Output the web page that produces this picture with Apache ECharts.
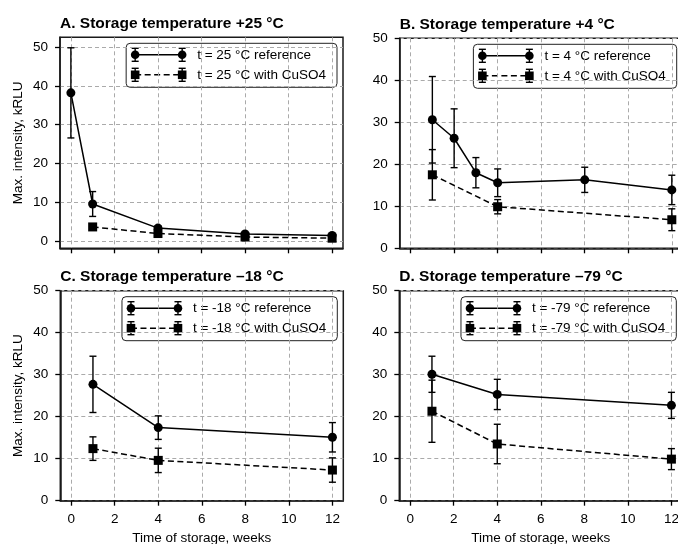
<!DOCTYPE html>
<html>
<head>
<meta charset="utf-8">
<script src="https://cdn.jsdelivr.net/npm/echarts@6.0.0/dist/echarts.min.js"></script>
<style>
  html, body { margin: 0; padding: 0; background: #fff; }
  #chart { width: 678px; height: 544px; }
</style>
</head>
<body>
<div id="chart"></div>
<script>
// tick values
const xTicks = [0, 2, 4, 6, 8, 10, 12];
const yTicks = [0, 10, 20, 30, 40, 50];

const panelTitles = [
  "A. Storage temperature +25 °C",
  "B. Storage temperature +4 °C",
  "C. Storage temperature –18 °C",
  "D. Storage temperature –79 °C"
];
const refLabels = ["t = 25 °C reference", "t = 4 °C reference", "t = -18 °C reference", "t = -79 °C reference"];
const cuLabels = ["t = 25 °C with CuSO4", "t = 4 °C with CuSO4", "t = -18 °C with CuSO4", "t = -79 °C with CuSO4"];

// A. +25 °C
const refWeeksA = [0, 1, 4, 8, 12];
const refA = [38.2, 9.6, 3.4, 1.9, 1.5];
const refErrA = [11.6, 3.2, 0.6, 0.4, 0.4];
const cuWeeksA = [1, 4, 8, 12];
const cuA = [3.7, 2.0, 1.1, 0.8];
const cuErrA = [0.8, 0.6, 0.4, 0.3];

// B. +4 °C
const refWeeksB = [1, 2, 3, 4, 8, 12];
const refB = [30.6, 26.2, 18.0, 15.6, 16.3, 13.9];
const refErrB = [10.3, 7.0, 3.6, 3.3, 3.0, 3.5];
const cuWeeksB = [1, 4, 12];
const cuB = [17.5, 9.9, 6.8];
const cuErrB = [6.0, 1.7, 2.6];

// C. -18 °C
const refWeeksC = [1, 4, 12];
const refC = [27.7, 17.4, 15.1];
const refErrC = [6.7, 2.8, 3.5];
const cuWeeksC = [1, 4, 12];
const cuC = [12.4, 9.6, 7.3];
const cuErrC = [2.8, 2.9, 2.9];

// D. -79 °C
const refWeeksD = [1, 4, 12];
const refD = [30.1, 25.3, 22.7];
const refErrD = [4.3, 3.6, 3.1];
const cuWeeksD = [1, 4, 12];
const cuD = [21.3, 13.5, 9.9];
const cuErrD = [7.4, 4.7, 2.5];

const panels = [
  { rw: refWeeksA, r: refA, re: refErrA, cw: cuWeeksA, c: cuA, ce: cuErrA },
  { rw: refWeeksB, r: refB, re: refErrB, cw: cuWeeksB, c: cuB, ce: cuErrB },
  { rw: refWeeksC, r: refC, re: refErrC, cw: cuWeeksC, c: cuC, ce: cuErrC },
  { rw: refWeeksD, r: refD, re: refErrD, cw: cuWeeksD, c: cuD, ce: cuErrD }
];

const FONT = "'Liberation Sans', Arial, Helvetica, sans-serif";
const FS = 13.5;
const INK = "#000";
const DASH = [6, 3.5];

// grid boxes (px) and y ranges
const grids = [
  { left: 60, top: 37.3, width: 283, height: 211, ymin: -1.8, ymax: 52.5 },
  { left: 399.7, top: 38.3, width: 283, height: 210, ymin: 0, ymax: 50 },
  { left: 60.3, top: 290.7, width: 283, height: 210, ymin: 0, ymax: 50 },
  { left: 399.3, top: 290.7, width: 283, height: 210, ymin: 0, ymax: 50 }
];

const chart = echarts.init(document.getElementById("chart"), null, { renderer: "canvas" });

function zip(xs, ys) { return xs.map((x, i) => [x, ys[i]]); }
function zip3(xs, ys, es) { return xs.map((x, i) => [x, ys[i], es[i]]); }

function renderErr(params, api) {
  const x = api.value(0), y = api.value(1), e = api.value(2);
  const t = api.coord([x, y + e]);
  const b = api.coord([x, y - e]);
  const cap = 3.5;
  const st = { stroke: INK, lineWidth: 1.4 };
  return {
    type: "group",
    children: [
      { type: "line", shape: { x1: t[0], y1: t[1], x2: b[0], y2: b[1] }, style: st },
      { type: "line", shape: { x1: t[0] - cap, y1: t[1], x2: t[0] + cap, y2: t[1] }, style: st },
      { type: "line", shape: { x1: b[0] - cap, y1: b[1], x2: b[0] + cap, y2: b[1] }, style: st }
    ]
  };
}

const measureCtx = document.createElement("canvas").getContext("2d");
measureCtx.font = FS + "px " + FONT;

// legend drawn as graphic: line + two markers with error bars
function legendGroup(i) {
  const g = grids[i];
  const w1 = measureCtx.measureText(refLabels[i]).width;
  const w2 = measureCtx.measureText(cuLabels[i]).width;
  const boxW = 71 + Math.max(w1, w2) + 11;
  const boxH = 44;
  const right = g.left + g.width - 6;
  const left = right - boxW;
  const top = g.top + 6;
  const rows = [top + 11.5, top + 31.5];
  const x1 = left + 9, x2 = left + 56;
  const st = { stroke: INK, lineWidth: 1.4 };
  const ch = [{
    type: "rect",
    shape: { x: left, y: top, width: boxW, height: boxH, r: 4 },
    style: { fill: "rgba(255,255,255,0.85)", stroke: "#222", lineWidth: 1 }
  }];
  rows.forEach((y, k) => {
    ch.push({ type: "line", shape: { x1: x1, y1: y, x2: x2, y2: y },
      style: { stroke: INK, lineWidth: 1.5, lineDash: k ? DASH : null } });
    [x1, x2].forEach(x => {
      ch.push({ type: "line", shape: { x1: x, y1: y - 6.5, x2: x, y2: y + 6.5 }, style: st });
      ch.push({ type: "line", shape: { x1: x - 3.5, y1: y - 6.5, x2: x + 3.5, y2: y - 6.5 }, style: st });
      ch.push({ type: "line", shape: { x1: x - 3.5, y1: y + 6.5, x2: x + 3.5, y2: y + 6.5 }, style: st });
      if (k === 0) {
        ch.push({ type: "circle", shape: { cx: x, cy: y, r: 4.3 }, style: { fill: INK } });
      } else {
        ch.push({ type: "rect", shape: { x: x - 4.3, y: y - 4.3, width: 8.6, height: 8.6 }, style: { fill: INK } });
      }
    });
    ch.push({ type: "text", x: left + 71, y: y,
      style: { text: k ? cuLabels[i] : refLabels[i], font: FS + "px " + FONT, fill: INK, verticalAlign: "middle" } });
  });
  return { type: "group", z: 100, children: ch };
}

const option = {
  animation: false,
  backgroundColor: "#fff",
  title: panelTitles.map((t, i) => ({
    text: t,
    left: grids[i].left,
    top: grids[i].top - 21.5,
    padding: 0,
    textStyle: { fontFamily: FONT, fontSize: 15.5, fontWeight: "bold", color: INK }
  })),
  grid: grids.map(g => ({
    left: g.left, top: g.top, width: g.width, height: g.height,
    containLabel: false, outerBoundsMode: "none",
    show: true, borderColor: "#1a1a1a", borderWidth: 1.5,
    backgroundColor: "transparent"
  })),
  xAxis: grids.map((g, i) => ({
    type: "value", gridIndex: i, min: -0.5, max: 12.5,
    name: i >= 2 ? "Time of storage, weeks" : "",
    nameLocation: "middle", nameGap: 30.5,
    nameTextStyle: { fontFamily: FONT, fontSize: FS, color: INK },
    axisLine: { show: true, onZero: false, lineStyle: { color: "#1a1a1a", width: 1.5 } },
    axisTick: { show: true, inside: false, length: 5, customValues: xTicks, lineStyle: { color: INK, width: 1.3 } },
    axisLabel: { show: i >= 2, customValues: xTicks, margin: 12, fontFamily: FONT, fontSize: FS, color: INK },
    splitLine: { show: true, lineStyle: { color: "#aaaaaa", width: 1, type: [4, 3] } }
  })),
  yAxis: grids.map((g, i) => ({
    type: "value", gridIndex: i, min: g.ymin, max: g.ymax,
    name: i % 2 === 0 ? "Max. intensity, kRLU" : "",
    nameLocation: "middle", nameGap: 35,
    nameTextStyle: { fontFamily: FONT, fontSize: FS, color: INK },
    axisLine: { show: true, onZero: false, lineStyle: { color: "#1a1a1a", width: 1.5 } },
    axisTick: { show: true, inside: false, length: 5, customValues: yTicks, lineStyle: { color: INK, width: 1.3 } },
    axisLabel: { customValues: yTicks, margin: 12, fontFamily: FONT, fontSize: FS, color: INK },
    splitLine: { show: true, lineStyle: { color: "#aaaaaa", width: 1, type: [4, 3] } }
  })),
  graphic: panels.map((p, i) => legendGroup(i)),
  series: []
};

panels.forEach((p, i) => {
  option.series.push({
    type: "custom", xAxisIndex: i, yAxisIndex: i, renderItem: renderErr,
    encode: { x: 0, y: 1 }, data: zip3(p.rw, p.r, p.re), z: 3
  });
  option.series.push({
    type: "custom", xAxisIndex: i, yAxisIndex: i, renderItem: renderErr,
    encode: { x: 0, y: 1 }, data: zip3(p.cw, p.c, p.ce), z: 3
  });
  option.series.push({
    type: "line", xAxisIndex: i, yAxisIndex: i, data: zip(p.rw, p.r),
    symbol: "circle", symbolSize: 9, z: 4,
    lineStyle: { color: INK, width: 1.5 }, itemStyle: { color: INK }
  });
  option.series.push({
    type: "line", xAxisIndex: i, yAxisIndex: i, data: zip(p.cw, p.c),
    symbol: "rect", symbolSize: 9, z: 4,
    lineStyle: { color: INK, width: 1.5, type: DASH }, itemStyle: { color: INK }
  });
});

chart.setOption(option);
</script>
</body>
</html>
